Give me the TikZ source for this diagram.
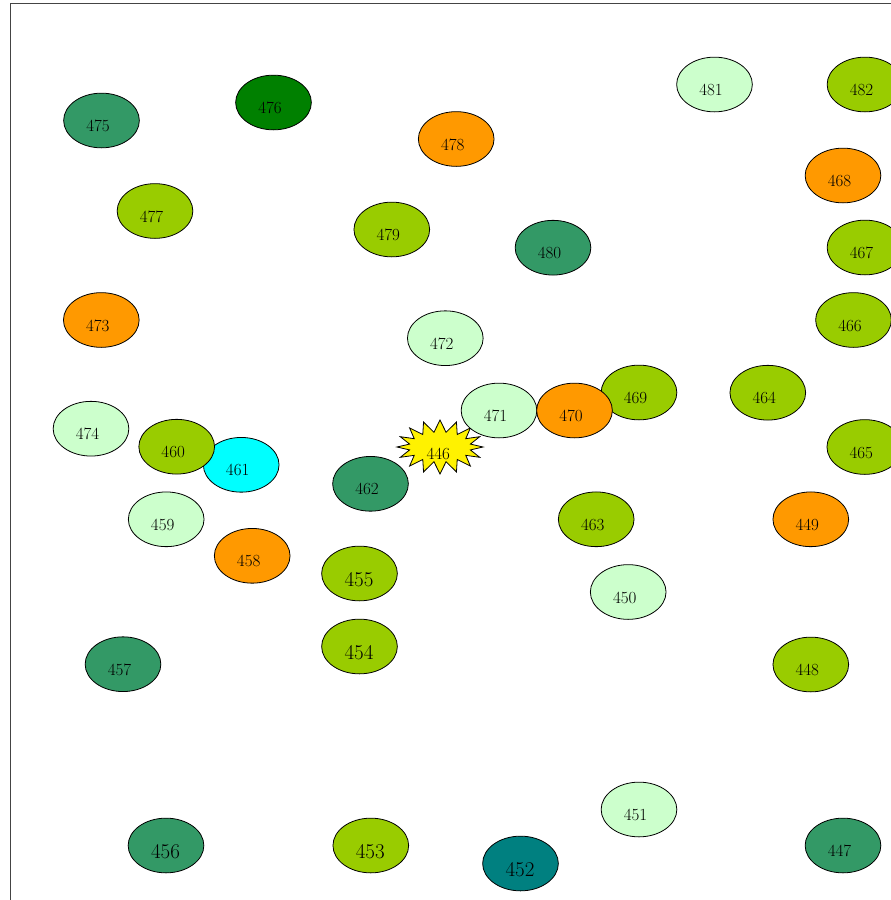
\documentclass[tikz,border=0pt]{standalone}
\usepackage{xcolor}
\usepackage{tikz}
\usetikzlibrary{shapes.geometric,shapes.symbols}
\definecolor{sea}{HTML}{339966}
\definecolor{leaf}{HTML}{008000}
\definecolor{lime}{HTML}{99CC00}
\definecolor{amber}{HTML}{FF9900}
\definecolor{mint}{HTML}{CCFFCC}
\definecolor{aqua}{HTML}{00FFFF}
\definecolor{tealdeep}{HTML}{008080}
\definecolor{frame}{HTML}{444444}

\begin{document}
\begin{tikzpicture}[x=1pt,y=-1pt,
  blob/.style={ellipse,draw=black,line width=.8pt,fill=#1,
    minimum width=75.7pt,minimum height=54.7pt,inner sep=0pt},
  num/.style={font=\fontsize{17}{20}\selectfont,text=black,
    xshift=-3.5pt,yshift=-5.5pt},
  bignum/.style={font=\fontsize{21}{24}\selectfont,text=black,
    xshift=-.5pt,yshift=-5.8pt}]
  \useasboundingbox (0,0) rectangle (891,900);
  \draw[frame,line width=.8pt] (10,1000) -- (10,3) -- (1000,3);

  % top rows
  \node[blob=sea,label={[num]center:475}] (n475) at (101.5,120.5) {};
  \node[blob=leaf,label={[num]center:476}] (n476) at (273.5,102.5) {};
  \node[blob=amber,label={[num]center:478}] (n478) at (456.2,139) {};
  \node[blob=mint,label={[num]center:481}] (n481) at (714.5,84.5) {};
  \node[blob=lime,label={[num]center:482}] (n482) at (865,84.5) {};
  \node[blob=amber,label={[num]center:468}] (n468) at (843,175.5) {};
  \node[blob=lime,label={[num]center:477}] (n477) at (155,211) {};
  \node[blob=lime,label={[num]center:479}] (n479) at (391.8,229.5) {};
  \node[blob=sea,label={[num]center:480}] (n480) at (553,247.7) {};
  \node[blob=lime,label={[num]center:467}] (n467) at (865,247.5) {};
  \node[blob=amber,label={[num]center:473}] (n473) at (101.3,320) {};
  \node[blob=mint,label={[num]center:472}] (n472) at (445.3,338.2) {};
  \node[blob=lime,label={[num]center:466}] (n466) at (853.5,320) {};

  % middle band
  \node[blob=mint,label={[num]center:474}] (n474) at (91,428.7) {};
  \node[blob=aqua,label={[num]center:461}] (n461) at (241.2,464.8) {};
  \node[blob=lime,label={[num]center:460}] (n460) at (176.7,446.7) {};
  \node[starburst,starburst points=16,random starburst=0,
    starburst point height=12pt,draw=black,line width=.8pt,fill=yellow,
    minimum width=86pt,minimum height=54pt,inner sep=0pt,
    label={[num,xshift=1.8pt,yshift=-1pt]center:446}] (n446) at (440,447) {};
  \node[blob=mint,label={[num]center:471}] (n471) at (499,410.5) {};
  \node[blob=lime,label={[num]center:469}] (n469) at (639,392.5) {};
  \node[blob=amber,label={[num]center:470}] (n470) at (574.5,410.5) {};
  \node[blob=lime,label={[num]center:464}] (n464) at (767.8,392.7) {};
  \node[blob=lime,label={[num]center:465}] (n465) at (864.8,447) {};
  \node[blob=sea,label={[num]center:462}] (n462) at (370.5,483.8) {};
  \node[blob=mint,label={[num]center:459}] (n459) at (166.2,519.3) {};
  \node[blob=lime,label={[num]center:463}] (n463) at (596.2,519.3) {};
  \node[blob=amber,label={[num]center:449}] (n449) at (810.8,519.3) {};
  \node[blob=amber,label={[num]center:458}] (n458) at (252.2,555.8) {};
  \node[blob=lime,label={[bignum]center:455}] (n455) at (359.5,573.5) {};
  \node[blob=mint,label={[num]center:450}] (n450) at (628.2,592) {};
  \node[blob=lime,label={[bignum]center:454}] (n454) at (359.5,646.5) {};
  \node[blob=sea,label={[num]center:457}] (n457) at (123,664.2) {};
  \node[blob=lime,label={[num]center:448}] (n448) at (810.8,664.5) {};

  % bottom row
  \node[blob=mint,label={[num]center:451}] (n451) at (639,809.5) {};
  \node[blob=sea,label={[bignum]center:456}] (n456) at (166,845.5) {};
  \node[blob=lime,label={[bignum]center:453}] (n453) at (370.8,845.5) {};
  \node[blob=tealdeep,label={[bignum]center:452}] (n452) at (520.5,863.5) {};
  \node[blob=sea,label={[num]center:447}] (n447) at (843,845.5) {};
\end{tikzpicture}
\end{document}
